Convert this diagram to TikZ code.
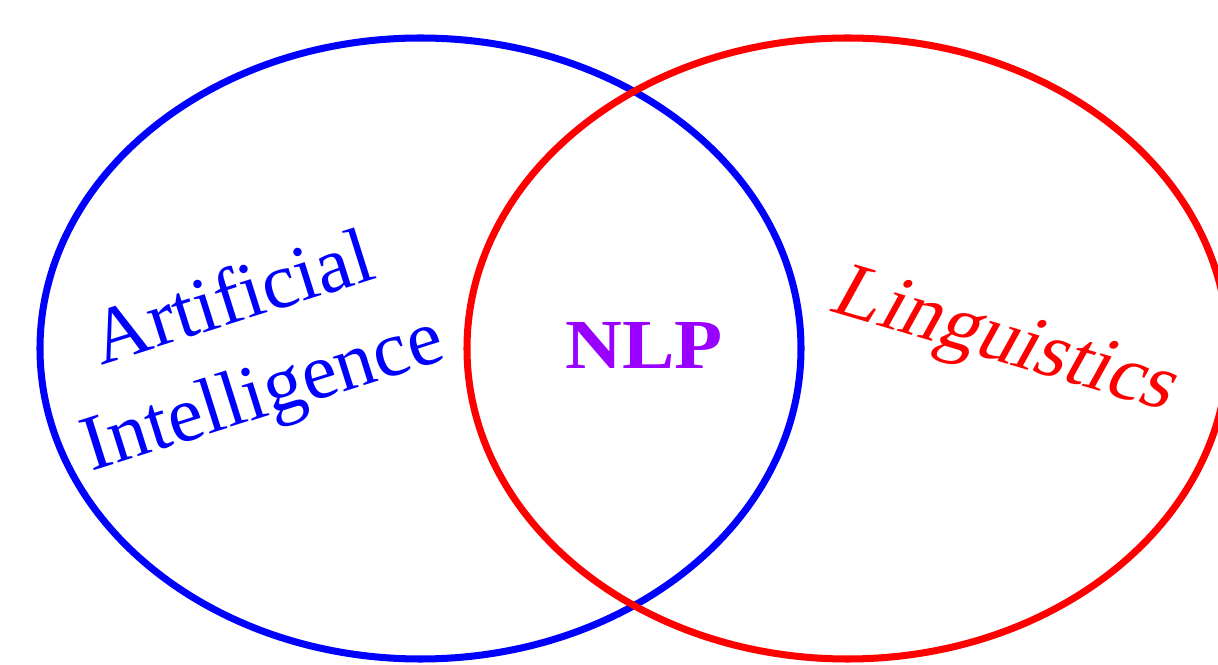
\documentclass[tikz,border=0pt]{standalone}
\usepackage{fontspec}
\setmainfont{Liberation Serif}
\definecolor{nlppurple}{RGB}{153,0,255}

\begin{document}
\begin{tikzpicture}[x=0.02cm,y=-0.02cm,
  ring/.style={line width=4pt},
  setname/.style={font=\fontsize{45}{56}\selectfont, align=center, inner sep=0pt}]
\useasboundingbox (0,0) rectangle (1218,665);
\clip (0,0) rectangle (1218,665);
\coordinate [] (AI) at (420.5,348.5);
\coordinate [] (LI) at (847.5,348.5);

\draw [ring, blue] (AI) ellipse [x radius=380.5, y radius=310.5];
\draw [ring, red] (LI) ellipse [x radius=380.5, y radius=310.5];

\node [setname, blue, rotate=17.5] (ailabel) at (249,350) {Artificial\\Intelligence};
\node [setname, red, font=\fontsize{45}{50}\selectfont, rotate=-16.5, xslant=0.22] (lilabel) at (1005,345) {Linguistics};
\node [setname, nlppurple, font=\fontsize{40}{48}\selectfont\bfseries, xscale=1.12] (nlp) at (644,345) {NLP};

\end{tikzpicture}
\end{document}
